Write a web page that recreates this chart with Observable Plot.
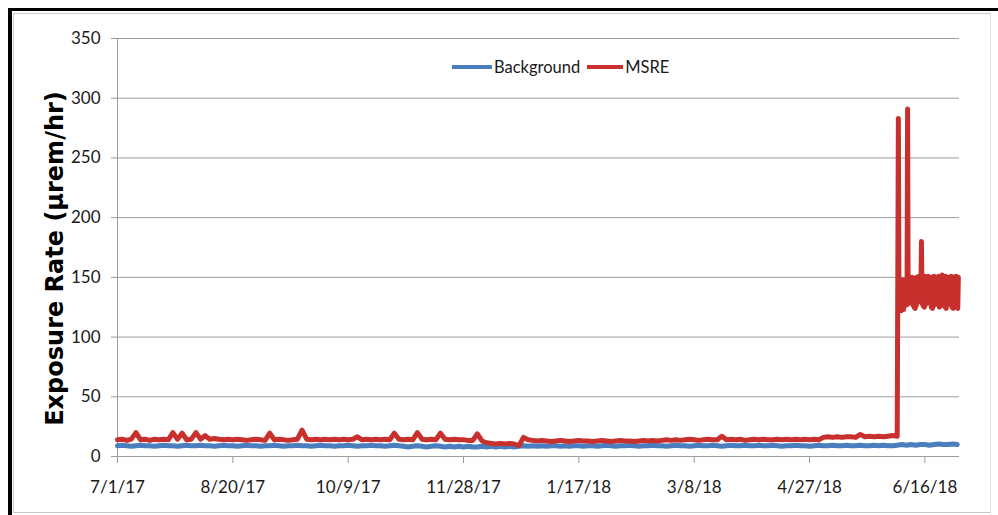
<!DOCTYPE html>
<html>
<head>
<meta charset="utf-8">
<script src="https://cdn.jsdelivr.net/npm/d3@7"></script>
<script src="https://cdn.jsdelivr.net/npm/@observablehq/plot@0.6"></script>
<style>
  html, body { margin: 0; padding: 0; background: #fff; overflow: hidden; }
  #wrap { position: relative; width: 998px; height: 515px; overflow: hidden; }
  #chart { position: absolute; left: 0; top: 0; }
  #outer { position: absolute; left: 8px; top: 8px; width: 990px; height: 507px; border-top: 3px solid #000; border-left: 4px solid #000; box-sizing: border-box; pointer-events: none; }
  #inner { position: absolute; left: 13px; top: 13px; width: 978px; height: 500px; border-top: 1px solid #c8c8c8; border-left: 1px solid #c8c8c8; border-right: 1px solid #e2e2e2; border-bottom: 1px solid #c8c8c8; box-sizing: border-box; pointer-events: none; }
  #legend { position: absolute; left: 452px; top: 55px; height: 24px; display: flex; align-items: center; font-family: Lato, sans-serif; font-size: 16.5px; color: #1a1a1a; }
  #legend .sw { display: inline-block; width: 40px; height: 4px; margin-right: 2px; }
  #legend .lab { margin-right: 7px; }
</style>
</head>
<body>
<div id="wrap">
  <div id="chart"></div>
  <div id="outer"></div>
  <div id="inner"></div>
  <div id="legend"></div>
</div>
<script>
// ---- data ----
const seriesNames = ["Background", "MSRE"];
const seriesColors = ["#4a7ebf", "#c8302e"];
const xTickLabels = ["7/1/17", "8/20/17", "10/9/17", "11/28/17", "1/17/18", "3/8/18", "4/27/18", "6/16/18"];
const yTicks = [0, 50, 100, 150, 200, 250, 300, 350];
const yTitle = "Exposure Rate (µrem/hr)";

const startDay = "7/1/17";
const endDay = "7/1/18";

// Background: one reading every 2 days from 7/1/17
const backgroundStepDays = 2;
const backgroundValues = [
  9,9.5,9,8.5,9,9.5,9,9,8.5,9,9.5,9,9,8.5,9,9.5,9,9,9.5,9,
  9,8.5,9,9.5,9,9,8.5,9,9.5,9,9,8.5,9,9,9.5,9,8.5,9,9,9.5,
  9,9,8.5,9,9.5,9,9,8.5,9,9,9.5,9,8.5,9,9,9.5,9,9,8.5,9,
  9.5,9,8.5,8,8.5,9,8.5,8,8.5,9,8.5,8,8.5,8,8.5,8,8.5,8,8,8.5,
  8,8.5,8,8.5,8,8.5,8,8.5,9,8.5,9,8.5,9,8.5,9,9,8.5,9,8.5,9,
  9,8.5,9,9,8.5,9,9.5,9,8.5,9,9,9.5,9,8.5,9,9,9.5,9,9,8.5,
  9,9.5,9,9,8.5,9,9.5,9,9,9.5,9,8.5,9,9.5,9,9,9.5,9,9,9.5,
  9,9,9.5,9,8.5,9,9,9.5,9,9,8.5,9,9.5,9,9,9.5,9,9,9.5,9,
  9,9.5,9,9,9.5,9,9.5,9,9,9.5,10,9.5,10,9.5,10,10,9.5,10,10.5,10,
  10,10.5,10
];

// MSRE: one reading every 2 days from 7/1/17 to 6/4/18
const msreStepDays = 2;
const msreValues = [
  14,14.5,13.5,14.5,20,14,14.5,13.5,14.5,14,14.5,14,20,14.5,19.5,14,14.5,20,14.5,17.5,
  14.5,15,14.5,14,14.5,14,14.5,14,13.5,14,14.5,14,13.5,19.5,14,14.5,14,13.5,14,14.5,
  22,14.5,14,14.5,14,14.5,14,14.5,14,14.5,14,14.5,16.5,14,14.5,14,14.5,14,14.5,14,
  19.5,14.5,14,14.5,14,20,14.5,14,14.5,14,19.5,14.5,14,14.5,14,14,13.5,13.5,19,13,
  11.5,11,10.5,11,10.5,11,10.5,9,16,14,
  13.5,13,13.5,13,12.5,13,13.5,13,12.5,13,13.5,13,13,12.5,13,13.5,13,12.5,13,13.5,13,13,12.5,13,13.5,13,13.5,13,13.5,14,
  13.5,14,13.5,14,14.5,14,13.5,14,14.5,14,14,17,14,14.5,14,14.5,13.5,14,14.5,14,14.5,14,14,14.5,14,14.5,14,14.5,14,14.5,14,14.5,14,
  16,16.5,16,16.5,16,16.5,16.5,16,18.5,16.5,17,16.5,17,16.5,17,17.5,17
];

// MSRE after the change on 6/4/18: one reading every 6 hours, starting 338.5 days after 7/1/17
const msreLateOffsetDays = 338.5;
const msreLateStepDays = 0.25;
const msreLateValues = [
  283,135,146,124,147,122,145,125,148,123,146,126,147,130,148,127,
  291,128,147,131,149,133,148,130,150,127,148,125,149,124,147,126,
  150,129,149,132,151,133,149,131,180,128,150,126,149,125,151,127,
  150,130,149,132,151,131,150,128,149,125,150,124,148,126,151,129,
  150,132,149,130,150,127,151,125,149,126,150,129,152,131,150,128,
  149,125,151,124,150,127,148,130,150,131,149,128,151,125,150,124,
  149,127,150,129,151,127,149,124,150
];

// ---- build ----
const DAY = 864e5;
function parseMDY(s) {
  const [m, d, y] = s.split("/").map(Number);
  return new Date(Date.UTC(2000 + y, m - 1, d));
}
const t0 = parseMDY(startDay);
const t1 = parseMDY(endDay);
const xTicks = xTickLabels.map(parseMDY);
const fmt = d3.utcFormat("%-m/%-d/%y");

const bg = backgroundValues.map((v, i) => ({date: new Date(+t0 + i * backgroundStepDays * DAY), value: v}));
const msre = msreValues.map((v, i) => ({date: new Date(+t0 + i * msreStepDays * DAY), value: v}))
  .concat(msreLateValues.map((v, i) => ({date: new Date(+t0 + (msreLateOffsetDays + i * msreLateStepDays) * DAY), value: v})));

const gridColor = "#9c9c9c";
const chart = Plot.plot({
  width: 998,
  height: 515,
  marginLeft: 117,
  marginRight: 39,
  marginTop: 38,
  marginBottom: 59,
  style: {fontFamily: "Lato, sans-serif", fontSize: "17px", color: "#1a1a1a", background: "transparent"},
  x: {type: "utc", domain: [t0, t1]},
  y: {domain: [0, 350]},
  marks: [
    Plot.gridY(yTicks, {stroke: gridColor, strokeOpacity: 1, strokeWidth: 1}),
    Plot.ruleX([t0], {stroke: gridColor, strokeWidth: 1}),
    Plot.axisY(yTicks, {tickSize: 6, tickPadding: 11, stroke: gridColor, fill: "#1a1a1a", fontSize: 17, label: null}),
    Plot.axisX(xTicks, {tickSize: 7, tickPadding: 17, stroke: gridColor, fill: "#1a1a1a", fontSize: 17, tickFormat: fmt, label: null}),
    Plot.lineY(bg, {x: "date", y: "value", stroke: seriesColors[0], strokeWidth: 5}),
    Plot.lineY(msre, {x: "date", y: "value", stroke: seriesColors[1], strokeWidth: 5}),
    Plot.text([yTitle], {frameAnchor: "left", textAnchor: "middle", rotate: -90, dx: -62, dy: 11, fontFamily: "DejaVu Sans", fontWeight: "bold", fontSize: 24, fill: "#000"})
  ]
});
document.getElementById("chart").appendChild(chart);

const legend = document.getElementById("legend");
seriesNames.forEach((name, i) => {
  const sw = document.createElement("span");
  sw.className = "sw";
  sw.style.background = seriesColors[i];
  if (i === 1) sw.style.width = "36px";
  const lab = document.createElement("span");
  lab.className = "lab";
  lab.textContent = name;
  legend.appendChild(sw);
  legend.appendChild(lab);
});
</script>
</body>
</html>
